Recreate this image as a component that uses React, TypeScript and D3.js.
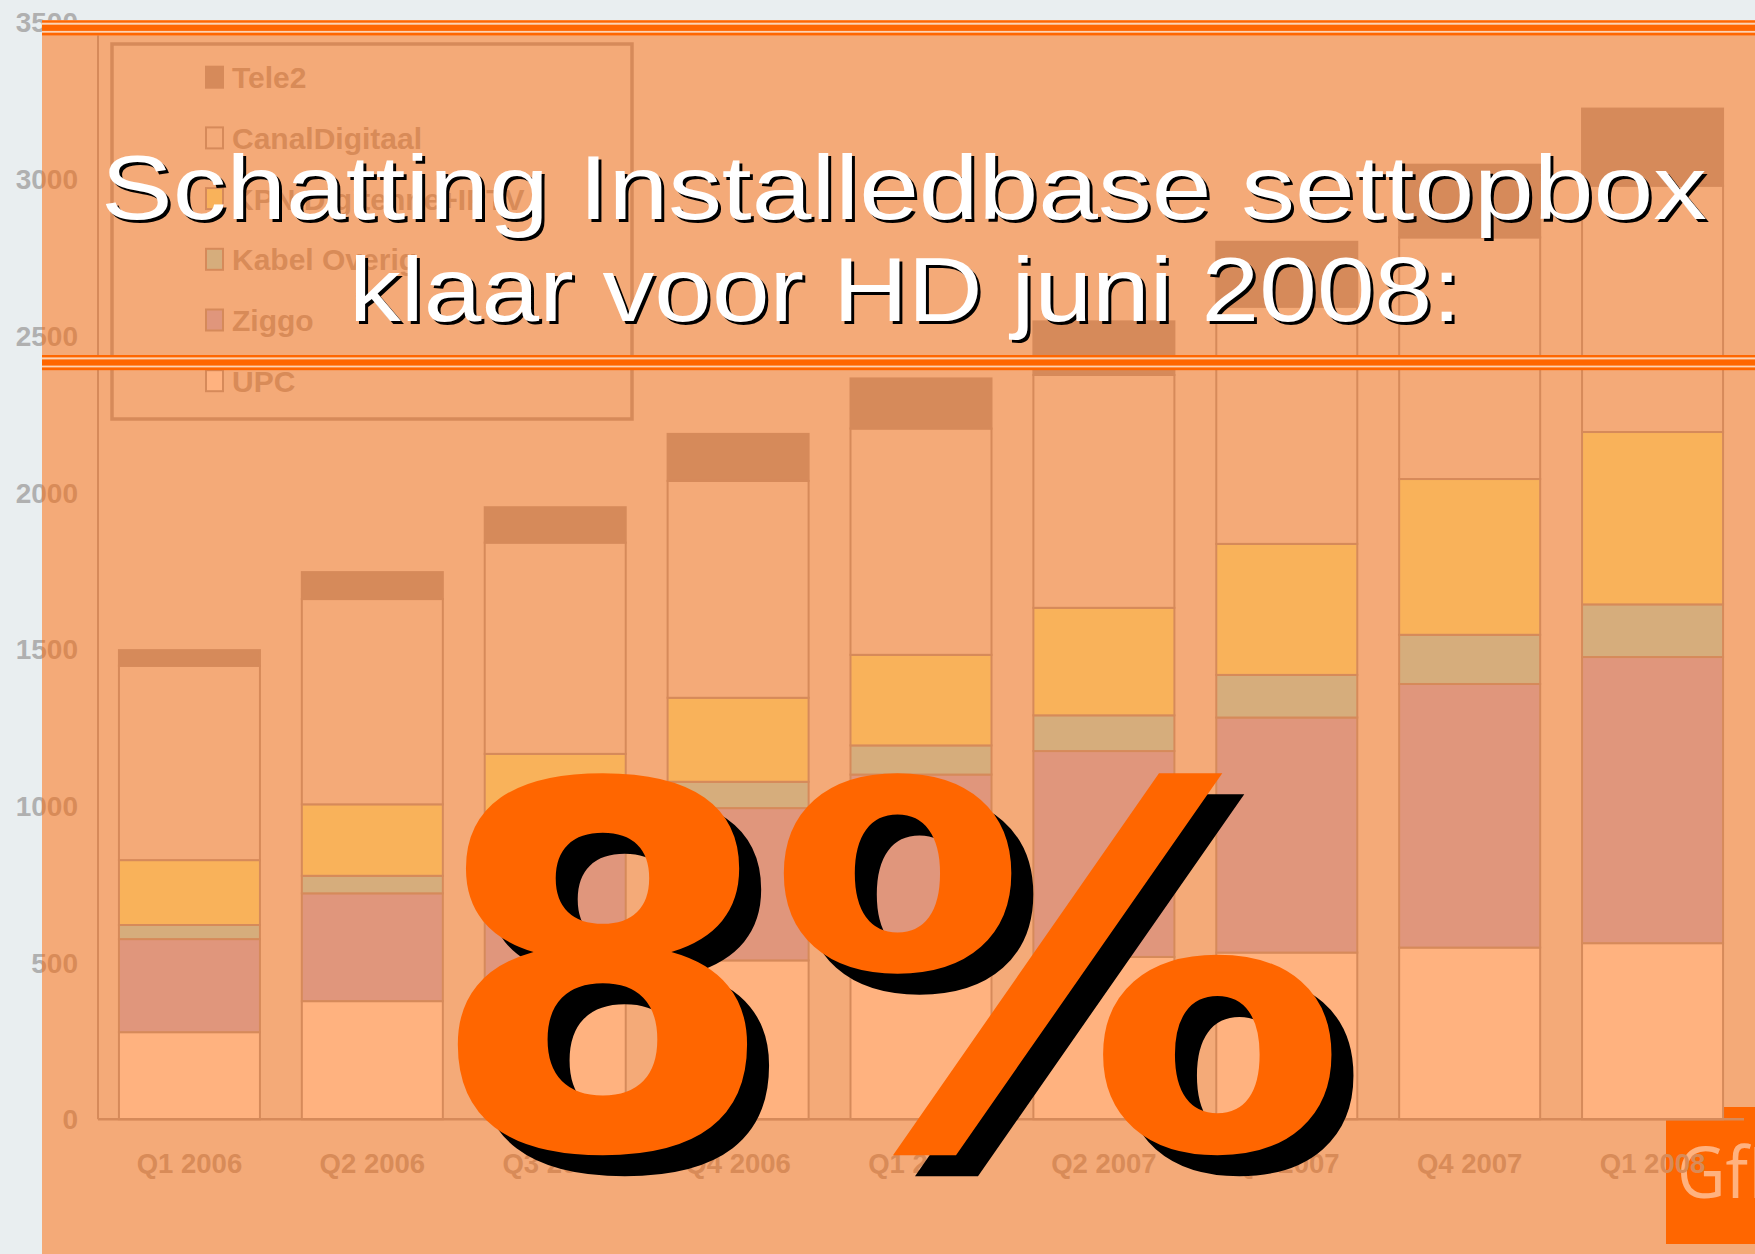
import React from "react";
import * as d3 from "d3";

const categories = ["Q1 2006", "Q2 2006", "Q3 2006", "Q4 2006", "Q1 2007", "Q2 2007", "Q3 2007", "Q4 2007", "Q1 2008"];
const upc = [278, 377, 405, 507, 510, 518, 532, 548, 562];
const ziggo = [297, 344, 455, 486, 590, 657, 750, 841, 913];
const kabelOverig = [45, 56, 70, 84, 93, 114, 136, 157, 168];
const kpnDigitenne = [207, 228, 236, 268, 289, 343, 418, 497, 550];
const canalDigitaal = [620, 655, 674, 692, 722, 743, 757, 771, 786];
const tele2 = [50, 86, 113, 150, 160, 171, 207, 232, 246];
const yTicks = [0, 500, 1000, 1500, 2000, 2500, 3000, 3500];

const seriesKeys = ["UPC", "Ziggo", "Kabel Overig", "KPN Digitenne+IPTV", "CanalDigitaal", "Tele2"];
const seriesValues = [upc, ziggo, kabelOverig, kpnDigitenne, canalDigitaal, tele2];
const seriesColors = ["#ffffff", "#c1c6f8", "#adf4f8", "#f3feb4", "#e9eef0", "#adaeb4"];
const legendOrder = ["Tele2", "CanalDigitaal", "KPN Digitenne+IPTV", "Kabel Overig", "Ziggo", "UPC"];

const titleLine1 = "Schatting Installedbase settopbox";
const titleLine2 = "klaar voor HD juni 2008:";

const W = 1755;
const H = 1254;
const PAGE = "#e9eef0";
const GRAYLINE = "#adaeb4";
const GRAYTEXT = "#b0b0b0";
const ORANGE = "#ff6600";
const FONT = "'Liberation Sans', Arial, sans-serif";
const BIG = "'DejaVu Sans', Verdana, sans-serif";

export default function App() {
  const table = categories.map((c, i) => {
    const row: Record<string, number | string> = { cat: c };
    seriesKeys.forEach((k, j) => (row[k] = seriesValues[j][i]));
    return row;
  });
  const stack = d3.stack<any>().keys(seriesKeys)(table as any);
  const x = d3.scaleBand<string>().domain(categories).range([98, 1744]).paddingInner(0.229).paddingOuter(0.1145);
  const y = d3.scaleLinear().domain([0, 3500]).range([1119.3, 22.4]);
  const color = d3.scaleOrdinal<string, string>().domain(seriesKeys).range(seriesColors);

  const lineBand = (top: number) => (
    <g>
      <rect x={42} y={top} width={W - 42} height={15} fill="#fcd3b4" />
      <rect x={42} y={top} width={W - 42} height={2.4} fill={ORANGE} />
      <rect x={42} y={top + 4.4} width={W - 42} height={6.2} fill={ORANGE} />
      <rect x={42} y={top + 12.4} width={W - 42} height={2.8} fill={ORANGE} />
    </g>
  );

  return (
    <svg width={W} height={H} viewBox={`0 0 ${W} ${H}`} style={{ position: "absolute", left: 0, top: 0, display: "block" }}>
      <rect x={0} y={0} width={W} height={H} fill={PAGE} />
      {/* GfK logo */}
      <rect x={1666} y={1107} width={W - 1666} height={137} fill={ORANGE} />
      <text x={1677} y={1198} fontFamily="'Open Sans', sans-serif" fontSize={72} fill="#ffffff" textLength={112} lengthAdjust="spacingAndGlyphs">GfK</text>

      {/* legend */}
      <rect x={112} y={44} width={520} height={375} fill="none" stroke={GRAYLINE} strokeWidth={3.5} />
      {legendOrder.map((k, i) => {
        const top = 66.7 + i * 60.7;
        return (
          <g key={k}>
            <rect x={206} y={top} width={17} height={21} fill={color(k)} stroke={GRAYLINE} strokeWidth={2} />
            <text x={232} y={top + 21.5} fontFamily={FONT} fontWeight="bold" fontSize={30} fill={GRAYTEXT}>{k}</text>
          </g>
        );
      })}

      {/* axes */}
      <line x1={98} x2={98} y1={y(3500)} y2={y(0)} stroke={GRAYLINE} strokeWidth={2} />
      {yTicks.map((t) => (
        <text key={t} x={78} y={y(t) + 10} textAnchor="end" fontFamily={FONT} fontWeight="bold" fontSize={28} fill={GRAYTEXT}>{t}</text>
      ))}

      {/* bars */}
      {stack.map((s) => (
        <g key={s.key}>
          {s.map((d, i) => (
            <rect key={i} x={x(categories[i])} y={y(d[1])} width={x.bandwidth()} height={y(d[0]) - y(d[1])}
              fill={color(s.key)} stroke={GRAYLINE} strokeWidth={2} />
          ))}
        </g>
      ))}
      <line x1={98} x2={1744} y1={y(0)} y2={y(0)} stroke={GRAYLINE} strokeWidth={2.5} />
      {categories.map((c) => (
        <text key={c} x={(x(c) as number) + x.bandwidth() / 2} y={1173} textAnchor="middle" fontFamily={FONT} fontWeight="bold" fontSize={27.5} fill={GRAYTEXT}>{c}</text>
      ))}

      {/* orange wash over the slide */}
      <rect x={42} y={20} width={W - 42} height={H - 20} fill={ORANGE} opacity={0.5} />
      {lineBand(20.3)}
      {lineBand(355)}

      {/* title */}
      <g fontFamily={FONT} fontSize={90} textAnchor="middle">
        <text x={907} y={222} fill="#000" textLength={1606} lengthAdjust="spacingAndGlyphs">{titleLine1}</text>
        <text x={904} y={219} fill="#fff" textLength={1606} lengthAdjust="spacingAndGlyphs">{titleLine1}</text>
        <text x={908} y={324} fill="#000" textLength={1112} lengthAdjust="spacingAndGlyphs">{titleLine2}</text>
        <text x={905} y={321} fill="#fff" textLength={1112} lengthAdjust="spacingAndGlyphs">{titleLine2}</text>
      </g>

      {/* big figure */}
      <g fontWeight="bold" fontFamily={BIG} fontSize={505}>
        <text x={449} y={1169} fill="#000">8</text>
        <text x={427} y={1148} fill={ORANGE}>8</text>
        <text x={787} y={1169} fill="#000" textLength={585} lengthAdjust="spacingAndGlyphs">%</text>
        <text x={765} y={1148} fill={ORANGE} textLength={585} lengthAdjust="spacingAndGlyphs">%</text>
      </g>
    </svg>
  );
}
